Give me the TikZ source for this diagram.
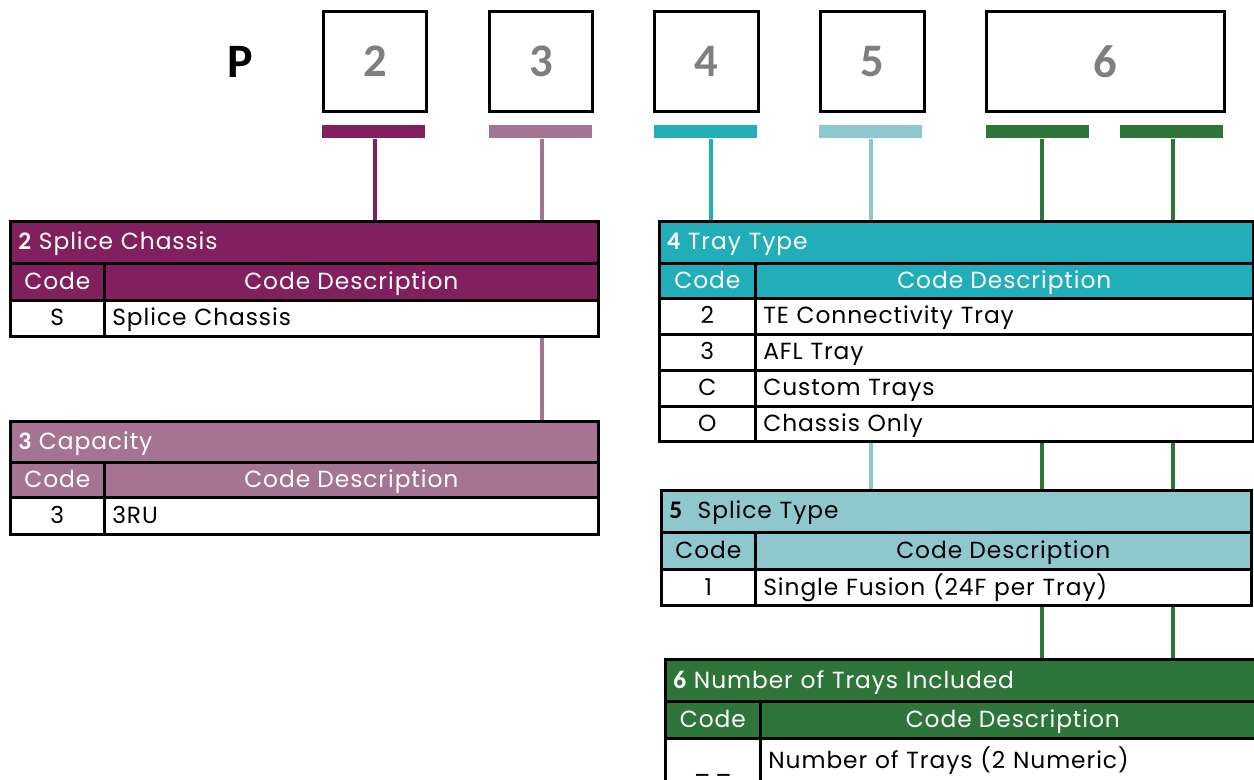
\documentclass[tikz,border=0pt]{standalone}
\usepackage{fontspec}
\setmainfont{Poppins}[LetterSpace=4]
\newfontfamily\numfont{Carlito}
\definecolor{cA}{HTML}{82205F}
\definecolor{cB}{HTML}{A67493}
\definecolor{cC}{HTML}{22AEB8}
\definecolor{cD}{HTML}{8EC7CE}
\definecolor{cE}{HTML}{2E7539}
\definecolor{digit}{HTML}{7F7F7F}
\newcommand\tf{\fontsize{17.5}{20}\selectfont}
\newcommand\nb[1]{{\numfont\bfseries\fontsize{19}{20}\selectfont #1}}
\tikzset{
  base/.style={rectangle, draw=black, line width=2pt, anchor=north west, inner sep=0pt, font=\tf, text height=14pt, text depth=2.5pt},
  W/.style={minimum width=#1*0.75pt},
  H/.style={minimum height=#1*0.75pt},
  lcell/.style={base, text width=#1*0.75pt-12pt, inner xsep=6pt, align=left},
  topbox/.style={rectangle, draw=black, line width=2.2pt, anchor=north west, inner sep=0pt, minimum height=100*0.75pt, text=digit, font=\numfont\bfseries\fontsize{35}{36}\selectfont},
  bar/.style={rectangle, fill=#1, anchor=north west, inner sep=0pt, minimum width=103*0.75pt, minimum height=13*0.75pt},
  stem/.style={draw=#1, line width=3pt},
}
\begin{document}
\begin{tikzpicture}[x=0.75pt, y=-0.75pt]
\useasboundingbox (0,0) rectangle (1254,780);
% top code boxes
\node[font=\numfont\bfseries\fontsize{36}{36}\selectfont] (P) at (240,62) {P};
\node[topbox, W=103] (b2) at (322,10) {2};
\node[topbox, W=103] (b3) at (488,10) {3};
\node[topbox, W=104] (b4) at (653,10) {4};
\node[topbox, W=104] (b5) at (819,10) {5};
\node[topbox, W=238] (b6) at (985,10) {6};
% bars
\node[bar=cA] (bar2) at (322,125) {};
\node[bar=cB] (bar3) at (489,125) {};
\node[bar=cC] (bar4) at (654,125) {};
\node[bar=cD] (bar5) at (819,125) {};
\node[bar=cE] (bar6a) at (986,125) {};
\node[bar=cE] (bar6b) at (1120,125) {};
% tables geometry coordinates
\coordinate (t2top) at (0,220);
\coordinate (t4top) at (0,220);
% stems (drawn first)
\draw[stem=cA] ([xshift=1]bar2.south) -- ([xshift=1]bar2.south |- t2top);
\draw[stem=cB] ([xshift=1]bar3.south) -- ([xshift=1]bar3.south |- t2top);
\draw[stem=cC] ([xshift=4]bar4.south) -- ([xshift=4]bar4.south |- t4top);
\draw[stem=cD] ([xshift=0]bar5.south) -- ([xshift=0]bar5.south |- t4top);
\draw[stem=cE] ([xshift=3]bar6a.south) -- ([xshift=3]bar6a.south |- t4top);
\draw[stem=cE] ([xshift=1]bar6b.south) -- ([xshift=1]bar6b.south |- t4top);
% ---- table 2
\node[lcell=588, H=42, fill=cA, text=white] (t2t) at (9,220) {\nb{2} Splice Chassis};
\node[base, W=94, H=37, fill=cA, text=white] (t2hc) at (9,262) {Code};
\node[base, W=494, H=37, fill=cA, text=white] (t2hd) at (103,262) {Code Description};
\node[base, W=94, H=36, fill=white] (t2c1) at (9,299) {S};
\node[lcell=494, H=36, fill=white] (t2d1) at (103,299) {Splice Chassis};
% ---- table 3
\draw[stem=cB] ([xshift=1]bar3.south |- t2d1.south) -- ([xshift=1]bar3.south |- 0,420);
\node[lcell=588, H=41, fill=cB, text=white] (t3t) at (9,420) {\nb{3} Capacity};
\node[base, W=94, H=35, fill=cB, text=white] (t3hc) at (9,461) {Code};
\node[base, W=494, H=35, fill=cB, text=white] (t3hd) at (103,461) {Code Description};
\node[base, W=94, H=37, fill=white] (t3c1) at (9,496) {3};
\node[lcell=494, H=37, fill=white] (t3d1) at (103,496) {3RU};
% ---- table 4
\node[lcell=594, H=42, fill=cC, text=white] (t4t) at (658,220) {\nb{4} Tray Type};
\node[base, W=96, H=35, fill=cC, text=white] (t4hc) at (658,262) {Code};
\node[base, W=498, H=35, fill=cC, text=white] (t4hd) at (754,262) {Code Description};
\node[base, W=96, H=36, fill=white] (t4c1) at (658,297) {2};
\node[lcell=498, H=36, fill=white] (t4d1) at (754,297) {TE Connectivity Tray};
\node[base, W=96, H=36, fill=white] (t4c2) at (658,333) {3};
\node[lcell=498, H=36, fill=white] (t4d2) at (754,333) {AFL Tray};
\node[base, W=96, H=36, fill=white] (t4c3) at (658,369) {C};
\node[lcell=498, H=36, fill=white] (t4d3) at (754,369) {Custom Trays};
\node[base, W=96, H=35, fill=white] (t4c4) at (658,405) {O};
\node[lcell=498, H=35, fill=white] (t4d4) at (754,405) {Chassis Only};
% stems between 4 and 5
\coordinate (t5top) at (0,489);
\draw[stem=cD] (bar5.south |- t4d4.south) -- (bar5.south |- t5top);
\draw[stem=cE] ([xshift=3]bar6a.south |- t4d4.south) -- ([xshift=3]bar6a.south |- t5top);
\draw[stem=cE] ([xshift=1]bar6b.south |- t4d4.south) -- ([xshift=1]bar6b.south |- t5top);
% ---- table 5
\node[lcell=590, H=42, fill=cD, text=black] (t5t) at (660,489) {\nb{5}\ \ Splice Type};
\node[base, W=94, H=37, fill=cD, text=black] (t5hc) at (660,531) {Code};
\node[base, W=496, H=37, fill=cD, text=black] (t5hd) at (754,531) {Code Description};
\node[base, W=94, H=36, fill=white] (t5c1) at (660,568) {1};
\node[lcell=496, H=36, fill=white] (t5d1) at (754,568) {Single Fusion (24F per Tray)};
% stems between 5 and 6
\coordinate (t6top) at (0,658);
\draw[stem=cE] ([xshift=3]bar6a.south |- t5d1.south) -- ([xshift=3]bar6a.south |- t6top);
\draw[stem=cE] ([xshift=1]bar6b.south |- t5d1.south) -- ([xshift=1]bar6b.south |- t6top);
% ---- table 6
\node[lcell=600, H=42, fill=cE, text=white] (t6t) at (664,658) {\nb{6} Number of Trays Included};
\node[base, W=95, H=37, fill=cE, text=white] (t6hc) at (664,700) {Code};
\node[base, W=505, H=37, fill=cE, text=white] (t6hd) at (759,700) {Code Description};
\node[base, W=95, H=44, fill=white] (t6c1) at (664,737) {\raisebox{-0.4ex}{\_\hspace{3pt}\_}};
\node[lcell=505, H=44, fill=white] (t6d1) at (759,737) {Number of Trays (2 Numeric)};
\end{tikzpicture}
\end{document}
